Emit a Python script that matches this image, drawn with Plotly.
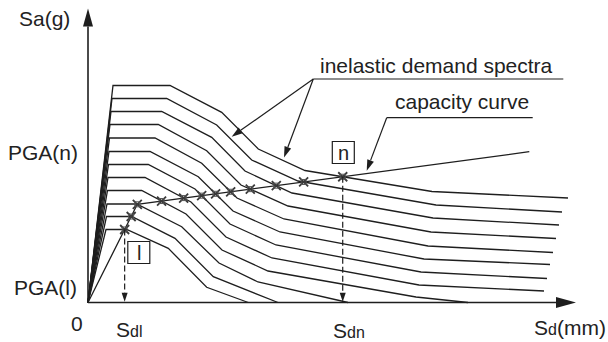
import numpy as np
import plotly.graph_objects as go

# Inelastic demand spectra (top to bottom): vertices as (Sd, Sa) in drawing units
demand_sd = [
    [0, 25, 82, 133.7, 170.3, 217, 344, 480],
    [0, 24, 78.7, 128.7, 163.7, 210, 348, 474],
    [0, 23, 73.7, 123.7, 157, 204, 345, 471],
    [0, 22, 70.3, 118.7, 153, 200, 343, 468],
    [0, 21.5, 67, 113.7, 149, 196, 340, 465],
    [0, 21, 62, 110.3, 145, 192, 336, 462],
    [0, 20.5, 60.3, 107, 142, 188, 333, 459],
    [0, 20, 57, 103, 138, 184, 331, 456],
    [0, 19.5, 53.7, 98, 134, 180, 328, 380],
    [0, 19, 48.7, 93.7, 131, 170, 260],
    [0, 18.5, 43.7, 87, 125.3, 190],
    [0, 18, 38.7, 80.3, 118.7, 160.3],
]
demand_sa = [
    [0, 217, 217, 190.2, 153.5, 132, 111, 104.5],
    [0, 204, 204, 177.5, 142.5, 121.5, 97.5, 90.5],
    [0, 191, 191, 165.2, 131.5, 109.5, 84.5, 77.5],
    [0, 178, 178, 151.8, 117.5, 96.5, 70.5, 64],
    [0, 164.5, 164.5, 139.2, 104.5, 83.5, 56.5, 50],
    [0, 151, 151, 125.8, 91.5, 70.5, 43.5, 38],
    [0, 138, 138, 113.5, 78.5, 57.5, 30.5, 24],
    [0, 125, 125, 100.5, 65.5, 44.5, 17.5, 11.5],
    [0, 112, 112, 88.5, 52.5, 31.5, 5.5, 0],
    [0, 98.5, 98.5, 75.8, 39.5, 20.5, 0],
    [0, 86, 86, 64.2, 25.8, 0],
    [0, 73, 73, 54.2, 15.2, 0],
]

# Bilinear capacity curve
capacity_sd = [0, 49.3, 441.3]
capacity_sa = [0, 98.2, 150.8]

INK = "#1e1e1e"
FONT = "Liberation Sans, Arial, Helvetica, sans-serif"


def performance_point(xs, ys):
    """First crossing of a demand spectrum with the capacity curve (away from the origin)."""
    grid = np.linspace(0.5, max(xs), 20000)
    diff = np.interp(grid, xs, ys) - np.interp(grid, capacity_sd, capacity_sa)
    idx = int(np.argmax(diff <= 0))
    x0, x1 = grid[idx - 1], grid[idx]
    d0, d1 = diff[idx - 1], diff[idx]
    x = x0 + (x1 - x0) * d0 / (d0 - d1)
    return x, float(np.interp(x, capacity_sd, capacity_sa))


pp = [performance_point(xs, ys) for xs, ys in zip(demand_sd, demand_sa)]
pp_sd = [p[0] for p in pp]
pp_sa = [p[1] for p in pp]

fig = go.Figure()

for xs, ys in zip(demand_sd, demand_sa):
    fig.add_trace(go.Scatter(x=xs, y=ys, mode="lines",
                             line=dict(color=INK, width=1.3), hoverinfo="skip"))

fig.add_trace(go.Scatter(x=capacity_sd, y=capacity_sa, mode="lines",
                         line=dict(color=INK, width=1.3), hoverinfo="skip"))

# performance points: a cross over a small square
fig.add_trace(go.Scatter(x=pp_sd, y=pp_sa, mode="markers",
                         marker=dict(symbol="x-thin-open", size=9, color="#3a3a3a",
                                     line=dict(color="#3a3a3a", width=1.8)),
                         hoverinfo="skip"))
fig.add_trace(go.Scatter(x=pp_sd, y=pp_sa, mode="markers",
                         marker=dict(symbol="square-open", size=5, color="#555",
                                     line=dict(color="#555", width=1)),
                         hoverinfo="skip"))

shapes = []


def seg(x0, y0, x1, y1, width=1.3, dash=None):
    line = dict(color=INK, width=width)
    if dash:
        line["dash"] = dash
    shapes.append(dict(type="line", xref="x", yref="y", x0=x0, y0=y0, x1=x1, y1=y1, line=line))


def head(tip, tail, length, half):
    tx, ty = tip
    dx, dy = tx - tail[0], ty - tail[1]
    n = float(np.hypot(dx, dy))
    ux, uy = dx / n, dy / n
    bx, by = tx - ux * length, ty - uy * length
    px, py = -uy, ux
    path = (f"M{tx},{ty} L{bx + px * half},{by + py * half} "
            f"L{bx - px * half},{by - py * half} Z")
    shapes.append(dict(type="path", xref="x", yref="y", path=path,
                       fillcolor=INK, line=dict(width=0)))
    return bx, by


def arrow(tail, tip, length=11, half=3.5, width=1.2, dash=None):
    bx, by = head(tip, tail, length, half)
    seg(tail[0], tail[1], bx, by, width=width, dash=dash)


# axes with arrowheads
arrow((0, 0), (0, 294), length=18, half=5, width=1.6)
arrow((0, 0), (488, 0), length=20, half=5.5, width=1.6)

# projections of the first and last performance points onto the Sd axis
arrow((pp_sd[-1], pp_sa[-1]), (pp_sd[-1], 0.8), length=9, half=3, width=1.2, dash="6px,3px")
arrow((pp_sd[0], pp_sa[0]), (pp_sd[0], 0.8), length=9, half=3, width=1.2, dash="6px,3px")

# leaders for the callouts
seg(225.3, 223.5, 475.3, 223.5, width=1.2)
arrow((225.3, 223.5), (143.7, 165.8))
arrow((225.3, 223.5), (196, 145))
seg(298.7, 184.8, 444.7, 184.8, width=1.2)
arrow((298.7, 184.8), (278.7, 131.8))

# boxed labels
for cx, cy in [(50.8, 50), (255.3, 150)]:
    shapes.append(dict(type="rect", xref="x", yref="y", x0=cx - 11, x1=cx + 11,
                       y0=cy - 11, y1=cy + 11, line=dict(color=INK, width=1.2),
                       fillcolor="white"))

annotations = []


def label(x, y, text, xanchor="center", size=21):
    annotations.append(dict(x=x, y=y, xref="x", yref="y", text=text, showarrow=False,
                            xanchor=xanchor, yanchor="middle",
                            font=dict(family=FONT, size=size, color="#222")))


label(-16, 284.5, "Sa(g)", xanchor="right")
label(-8, 150.5, "PGA(n)", xanchor="right")
label(-9.5, 15, "PGA(l)", xanchor="right")
label(-11.3, -21, "0")
label(41, -27, "S<span style='font-size:16px'>dl</span>")
label(260.5, -27.5, "S<span style='font-size:16px'>dn</span>")
label(482, -24.5, "S<span style='font-size:16px'>d</span>(mm)")
label(230, 237.5, "inelastic demand spectra", xanchor="left")
label(304.7, 201.5, "capacity curve", xanchor="left")
label(50.8, 50, "l", size=20)
label(255.3, 150, "n", size=20)

fig.update_layout(
    width=608, height=342,
    margin=dict(l=0, r=0, t=0, b=0),
    paper_bgcolor="white", plot_bgcolor="white",
    showlegend=False,
    xaxis=dict(range=[-88, 520], visible=False, fixedrange=True),
    yaxis=dict(range=[-39.5, 302.5], visible=False, fixedrange=True),
    shapes=shapes,
    annotations=annotations,
)

fig.write_html("out.html")
